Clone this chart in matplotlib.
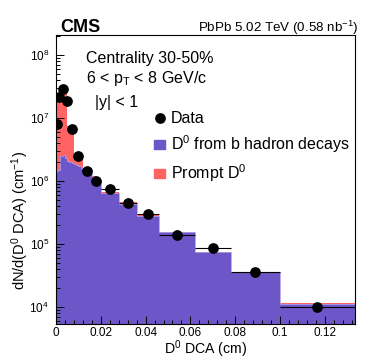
import matplotlib
matplotlib.use('Agg')
import matplotlib.pyplot as plt
import numpy as np
from matplotlib.ticker import AutoMinorLocator, FuncFormatter, LogLocator
from matplotlib.lines import Line2D
from matplotlib.patches import Patch

plt.rcParams['font.family'] = ['Liberation Sans', 'DejaVu Sans']
plt.rcParams['mathtext.fontset'] = 'custom'
plt.rcParams['mathtext.rm'] = 'Liberation Sans'
plt.rcParams['mathtext.it'] = 'Liberation Sans:italic'
plt.rcParams['mathtext.bf'] = 'Liberation Sans:bold'

# template histograms (fine binning at small DCA)
tmpl_edges = [0, 0.001, 0.002, 0.003, 0.004, 0.005, 0.006, 0.007, 0.008, 0.009,
              0.010, 0.011, 0.012, 0.014, 0.016, 0.018, 0.020, 0.028, 0.036,
              0.046, 0.062, 0.078, 0.100, 0.1335]
nonprompt = [1.45e6, 1.5e6, 2.5e6, 2.6e6, 2.3e6, 2.1e6, 2.0e6, 1.95e6, 1.85e6,
             1.8e6, 1.75e6, 1.6e6, 1.5e6, 1.35e6, 1.15e6, 1.0e6, 6.5e5, 4.27e5,
             2.78e5, 1.53e5, 7.5e4, 3.6e4, 1.12e4]
prompt = [2.25e7, 2.25e7, 2.15e7, 2.14e7, 2.17e7, 5.4e6, 5.5e6, 5.55e6, 7.5e5,
          8.0e5, 8.5e5, 1.0e6, 1.0e5, 2.5e5, 5e4, 5e4, 2e4, 3.3e4, 7e3, 2e3,
          1e3, 500, 300]

# data points
data_edges = [0, 0.001, 0.002, 0.004, 0.006, 0.008, 0.012, 0.016, 0.020, 0.028,
              0.036, 0.046, 0.062, 0.078, 0.100, 0.1335]
data_y = [7.9e6, 2.18e7, 2.86e7, 1.84e7, 6.6e6, 2.45e6, 1.44e6, 1.0e6, 7.5e5,
          4.5e5, 3.0e5, 1.39e5, 8.6e4, 3.6e4, 1.0e4]

red = '#FF6363'
purple = '#6C56C8'

fig = plt.figure(figsize=(3.74, 3.61), dpi=100)
ax = fig.add_axes([56/374, 1-324/361, 299/374, 289/361])

total = np.array(nonprompt) + np.array(prompt)
ax.stairs(total, tmpl_edges, fill=True, color=red, baseline=1)
ax.stairs(nonprompt, tmpl_edges, fill=True, color=purple, baseline=1)
ax.stairs(nonprompt, tmpl_edges, color='#B59BE0', linewidth=0.6, baseline=None)

de = np.array(data_edges)
xc = 0.5*(de[1:] + de[:-1])
xe = 0.5*(de[1:] - de[:-1])
ax.errorbar(xc, data_y, xerr=xe, fmt='o', color='black', ms=6.7,
            elinewidth=0.8, capsize=0)

ax.set_yscale('log')
ax.set_xlim(0, 0.1335)
ax.set_ylim(5400, 2.07e8)

ax.xaxis.set_minor_locator(AutoMinorLocator(5))
ax.xaxis.set_major_formatter(FuncFormatter(lambda v, p: '%g' % round(v, 4)))
ax.yaxis.set_minor_locator(LogLocator(base=10, subs=np.arange(2, 10)))
ax.tick_params(which='both', direction='in', top=False, right=False,
               labelsize=8.5, width=0.7)
ax.tick_params(which='major', length=6)
ax.tick_params(which='minor', length=3)
ax.tick_params(axis='y', pad=5)
ax.tick_params(axis='x', pad=2.5)
for s in ax.spines.values():
    s.set_linewidth(0.8)

fig.text(0.55, 0.020, r'D$^{0}$ DCA (cm)', fontsize=10.2, ha='center', va='baseline')
fig.text(0.053, 0.388, r'dN/d(D$^{0}$ DCA) (cm$^{-1}$)', fontsize=10.5,
         rotation=90, ha='center', va='center')

fig.text(0.160, 0.911, 'CMS', fontsize=13, fontweight='bold', ha='left', va='baseline')
fig.text(0.957, 0.911, r'PbPb 5.02 TeV (0.58 nb$^{-1}$)', fontsize=9.6,
         ha='right', va='baseline')

ax.text(0.100, 0.903, 'Centrality 30-50%', fontsize=11.5, transform=ax.transAxes,
        va='baseline')
ax.text(0.100, 0.834, r'6 < p$_{\mathrm{T}}$ < 8 GeV/c', fontsize=11.5,
        transform=ax.transAxes, va='baseline')
ax.text(0.130, 0.750, '|y| < 1', fontsize=11.5, transform=ax.transAxes,
        va='baseline')

handles = [Line2D([], [], marker='o', color='black', ls='none', ms=6.7),
           Patch(color=purple), Patch(color=red)]
labels = ['Data', r'D$^{0}$ from b hadron decays', r'Prompt D$^{0}$']
ax.legend(handles, labels, loc='upper left', bbox_to_anchor=(0.328, 0.736),
          frameon=False, fontsize=11.5, handlelength=0.7, handletextpad=0.35,
          labelspacing=0.45, borderpad=0, borderaxespad=0, handleheight=0.5)

fig.savefig('out.png', dpi=100)
